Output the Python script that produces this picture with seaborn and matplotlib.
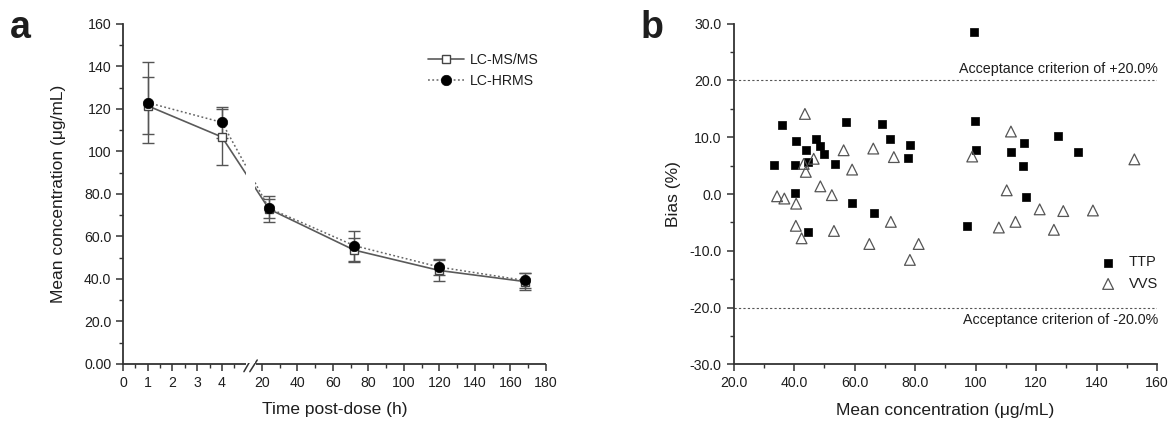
import numpy as np
import matplotlib
matplotlib.use("Agg")
import matplotlib.pyplot as plt
import seaborn as sns

# ---------------- data ----------------
# panel a: mean concentration vs time
time_h = [1, 4, 24, 72, 120, 168]
msms_mean = [121.5, 106.8, 72.9, 53.6, 44.0, 38.8]
msms_sd = [13.5, 13.0, 6.1, 5.6, 4.8, 4.0]
hrms_mean = [123.0, 113.7, 73.3, 55.7, 45.6, 39.3]
hrms_sd = [19.0, 7.3, 4.5, 7.0, 3.7, 3.5]

a_xticks = [0, 1, 2, 3, 4, 20, 40, 60, 80, 100, 120, 140, 160, 180]
a_xticklabels = ["0", "1", "2", "3", "4", "20", "40", "60", "80", "100",
                 "120", "140", "160", "180"]
a_xminor = [0.5, 1.5, 2.5, 3.5, 4.5, 30, 50, 70, 90, 110, 130, 150, 170]
a_yticks = [0, 20, 40, 60, 80, 100, 120, 140, 160]
a_yticklabels = ["0.00", "20.0", "40.0", "60.0", "80.0", "100", "120", "140", "160"]

# panel b: bias vs mean concentration
ttp_conc = [36.0, 57.2, 40.6, 47.2, 44.0, 48.5, 50.0, 33.4, 40.3, 44.6,
            53.6, 40.4, 59.1, 44.6, 66.3, 69.1, 71.8, 78.2, 77.8, 97.1,
            99.6, 99.7, 100.2, 111.8, 116.0, 115.8, 127.3, 133.9, 116.6]
ttp_bias = [12.1, 12.6, 9.4, 9.7, 7.7, 8.45, 7.1, 5.05, 5.05, 5.7,
            5.2, 0.1, -1.5, -6.7, -3.3, 12.4, 9.7, 8.7, 6.3, -5.6,
            28.6, 12.85, 7.7, 7.45, 8.9, 4.9, 10.3, 7.4, -0.6]
vvs_conc = [43.6, 56.4, 46.5, 43.2, 43.9, 59.2, 48.7, 52.5, 34.4, 36.8,
            40.7, 40.6, 53.2, 42.5, 66.2, 73.0, 72.0, 64.9, 81.2, 78.3,
            98.9, 111.7, 152.5, 110.3, 121.2, 129.0, 107.7, 113.2, 125.9, 138.8]
vvs_bias = [14.1, 7.7, 6.2, 5.3, 3.9, 4.3, 1.35, -0.2, -0.4, -0.8,
            -1.7, -5.6, -6.5, -7.8, 8.0, 6.5, -4.9, -8.8, -8.8, -11.6,
            6.6, 11.0, 6.1, 0.65, -2.7, -3.0, -5.9, -4.9, -6.3, -2.9]

b_xticks = [20, 40, 60, 80, 100, 120, 140, 160]
b_xticklabels = ["20.0", "40.0", "60.0", "80.0", "100", "120", "140", "160"]
b_yticks = [-30, -20, -10, 0, 10, 20, 30]
b_yticklabels = ["-30.0", "-20.0", "-10.0", "0.0", "10.0", "20.0", "30.0"]

# ---------------- style ----------------
sns.set_theme(style="ticks")
plt.rcParams["font.family"] = ["Liberation Sans", "DejaVu Sans"]
TXT = "#1e1e1e"
SPINE = "#333333"
plt.rcParams.update({
    "axes.edgecolor": SPINE, "axes.linewidth": 1.3,
    "xtick.color": SPINE, "ytick.color": SPINE,
    "xtick.labelcolor": TXT, "ytick.labelcolor": TXT,
    "text.color": TXT, "axes.labelcolor": TXT,
    "xtick.direction": "out", "ytick.direction": "out",
    "xtick.major.size": 5, "ytick.major.size": 5,
    "xtick.minor.size": 3, "ytick.minor.size": 3,
    "xtick.major.width": 1.1, "ytick.major.width": 1.1,
    "xtick.minor.width": 1.0, "ytick.minor.width": 1.0,
    "xtick.labelsize": 10.2, "ytick.labelsize": 10.2,
})

fig = plt.figure(figsize=(11.71, 4.23), dpi=100)
axa = fig.add_axes([0.1050, 0.1395, 0.3612, 0.8038])
axb = fig.add_axes([0.6264, 0.1385, 0.3617, 0.8057])

# ---------------- panel a ----------------
K = (17.09 - 5.616) / 160.0
U_MID = 5.616 + (14.5 - 20) * K


def fwd(x):
    x = np.asarray(x, dtype=float)
    mid = 5.1 + (x - 5.1) * (U_MID - 5.1) / (14.5 - 5.1)
    return np.where(x <= 5.1, x, np.where(x >= 14.5, 5.616 + (x - 20) * K, mid))


def inv(u):
    u = np.asarray(u, dtype=float)
    mid = 5.1 + (u - 5.1) * (14.5 - 5.1) / (U_MID - 5.1)
    return np.where(u <= 5.1, u, np.where(u >= U_MID, 20 + (u - 5.616) / K, mid))


axa.errorbar(time_h, msms_mean, yerr=msms_sd, fmt="none", ecolor="#555555",
             elinewidth=1.0, capsize=4.5, capthick=1.0, zorder=1.5)
axa.errorbar(time_h, hrms_mean, yerr=hrms_sd, fmt="none", ecolor="#555555",
             elinewidth=1.0, capsize=4.5, capthick=1.0, zorder=1.5)
sns.lineplot(x=time_h, y=msms_mean, ax=axa, color="#5a5a5a", lw=1.2,
             marker="s", markersize=6, markerfacecolor="white",
             markeredgecolor="#444444", markeredgewidth=1.0,
             label="LC-MS/MS", errorbar=None, zorder=2)
sns.lineplot(x=time_h, y=hrms_mean, ax=axa, color="#666666", lw=1.1,
             linestyle=(0, (1.2, 1.6)), marker="o", markersize=7.5,
             markerfacecolor="black", markeredgecolor="black",
             markeredgewidth=0.5, label="LC-HRMS", errorbar=None, zorder=2.2)

axa.set_xscale("function", functions=(fwd, inv))
axa.set_xlim(0, 180)
axa.set_ylim(0, 160)
axa.set_xticks(a_xticks)
axa.set_xticklabels(a_xticklabels)
axa.set_xticks(a_xminor, minor=True)
axa.set_yticks(a_yticks)
axa.set_yticklabels(a_yticklabels)
axa.set_yticks(np.arange(10, 160, 20), minor=True)
axa.spines[["top", "right"]].set_visible(False)

# broken x axis
axa.spines["bottom"].set_visible(False)
axa.axvspan(4.97, 16.0, ymin=0.004, ymax=1, color="white", zorder=2.6, lw=0)
xt = axa.get_xaxis_transform()
axa.plot([0, 4.97], [0, 0], transform=xt, color=SPINE, lw=1.3, clip_on=False,
         solid_capstyle="butt")
axa.plot([16.6, 180], [0, 0], transform=xt, color=SPINE, lw=1.3, clip_on=False,
         solid_capstyle="butt")
for x0, x1 in [(0.286, 0.302), (0.300, 0.3175)]:
    axa.plot([x0, x1], [-0.0226, 0.0118], transform=axa.transAxes, color=SPINE,
             lw=1.1, clip_on=False)

axa.set_xlabel("Time post-dose (h)", fontsize=12.5, labelpad=9)
axa.set_ylabel("Mean concentration (\u03bcg/mL)", fontsize=12.5, labelpad=13)
axa.legend(loc="upper left", bbox_to_anchor=(0.705, 0.936), frameon=False,
           borderpad=0, handlelength=2.5, handletextpad=0.45,
           labelspacing=0.5, fontsize=10.2)

# ---------------- panel b ----------------
axb.axhline(20, color="#555555", lw=0.8, ls=(0, (2, 2)), zorder=1)
axb.axhline(-20, color="#555555", lw=0.8, ls=(0, (2, 2)), zorder=1)
sns.scatterplot(x=ttp_conc, y=ttp_bias, ax=axb, marker="s", s=32,
                color="black", edgecolor="black", linewidth=0.5, label="TTP",
                zorder=3)
sns.scatterplot(x=vvs_conc, y=vvs_bias, ax=axb, marker="^", s=60,
                color="none", edgecolor="#555555", linewidth=0.9, label="VVS",
                zorder=3)
axb.set_xlim(20, 160)
axb.set_ylim(-30, 30)
axb.set_xticks(b_xticks)
axb.set_xticklabels(b_xticklabels)
axb.set_xticks(np.arange(30, 160, 20), minor=True)
axb.set_yticks(b_yticks)
axb.set_yticklabels(b_yticklabels)
axb.set_yticks(np.arange(-25, 30, 10), minor=True)
axb.spines[["top", "right"]].set_visible(False)
axb.text(160.3, 22.0, "Acceptance criterion of +20.0%", ha="right",
         va="center", fontsize=10.3)
axb.text(160.3, -22.2, "Acceptance criterion of -20.0%", ha="right",
         va="center", fontsize=10.3)
axb.set_xlabel("Mean concentration (\u03bcg/mL)", fontsize=12.5, labelpad=9)
axb.set_ylabel("Bias (%)", fontsize=12.5, labelpad=6)
axb.legend(loc="upper left", bbox_to_anchor=(0.850, 0.341), frameon=False,
           borderpad=0, handlelength=1.0, handletextpad=0.9,
           labelspacing=0.5, fontsize=10.5)

# panel letters
fig.text(0.0085, 0.910, "a", fontsize=27, fontweight="bold", va="baseline")
fig.text(0.5466, 0.910, "b", fontsize=27, fontweight="bold", va="baseline")

fig.savefig("out.png", dpi=100)
